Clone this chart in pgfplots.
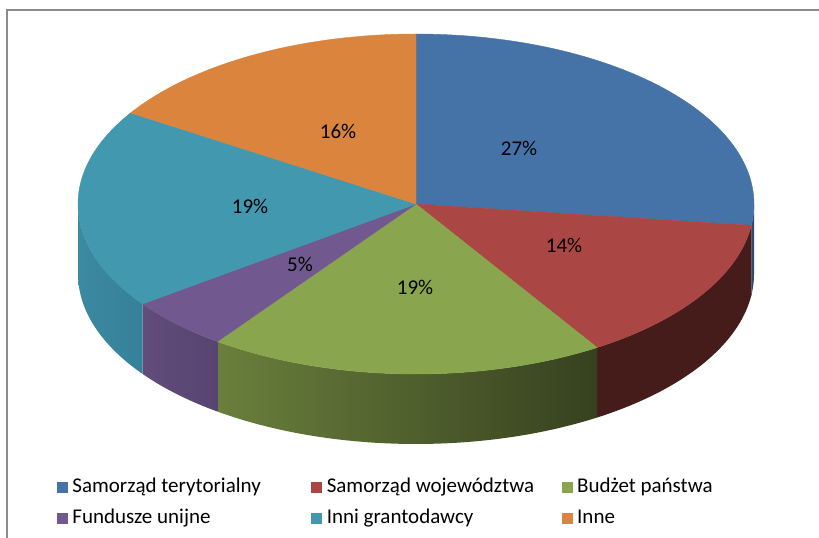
\documentclass[border=0pt]{standalone}
\usepackage{pgfplots}
\pgfplotsset{compat=1.18}
\usepackage{pgfplotstable}
\usepackage{fontspec}
\setmainfont{Carlito}

\definecolor{sblue}{HTML}{4572A7}
\definecolor{sred}{HTML}{AA4643}
\definecolor{sgreen}{HTML}{89A54E}
\definecolor{spurple}{HTML}{71588F}
\definecolor{steal}{HTML}{4198AF}
\definecolor{sorange}{HTML}{DB843D}
\definecolor{sblueS}{HTML}{2E4A6C}
\definecolor{sredS}{HTML}{461C1B}
\definecolor{sgreenL}{HTML}{6A7F3C}
\definecolor{sgreenR}{HTML}{36411F}
\definecolor{spurpleL}{HTML}{614C7B}
\definecolor{spurpleR}{HTML}{574470}
\definecolor{stealL}{HTML}{3B8AA0}
\definecolor{stealR}{HTML}{35809A}
\definecolor{frame}{HTML}{8C8C8C}

% shares of the six slices (percent), clockwise from 12 o'clock
\pgfplotstableread{
share
27
14
19
5
19
16
}\piedata

\def\angcur{90}
\newcommand\nextang[2]{%
  \pgfplotstablegetelem{#1}{share}\of\piedata
  \pgfmathsetmacro#2{\angcur-3.6*\pgfplotsretval}%
  \let\angcur#2}
\def\angO{90}
\nextang{0}{\angA}
\nextang{1}{\angB}
\nextang{2}{\angC}
\nextang{3}{\angD}
\nextang{4}{\angE}
\nextang{5}{\angF}

% geometry of the pie (in px of the reference, y up)
\def\cx{416}\def\cy{334}\def\rx{338}\def\ry{170}\def\dz{70}

\newcommand\topslice[3]{% start, end, colour
  \edef\dotop{\noexpand\addplot[fill=#3, draw=#3, line width=0.4bp, domain=#2:#1, samples=60]
    ({\cx+\rx*cos(x)}, {\cy+\ry*sin(x)}) -- (axis cs:\cx,\cy) -- cycle;}%
  \dotop}

\newcommand\sideslice[4]{% start, end, left colour, right colour
  \pgfmathsetmacro\lo{max(#2,-180)}%
  \pgfmathsetmacro\hi{min(#1,0)}%
  \pgfmathtruncatemacro\ok{\hi>\lo}%
  \ifnum\ok=1
    \edef\doside{\noexpand\addplot[draw=none, left color=#3, right color=#4,
      samples at={0,1,...,40,40.001,41,42,...,80}, variable=\noexpand\t]
      ({\cx+\rx*cos(th(\noexpand\t,\lo,\hi))},
       {\cy+\ry*sin(th(\noexpand\t,\lo,\hi))-(\noexpand\t>40.0005)*\dz}) -- cycle;}%
    \doside
  \fi}

\begin{document}
\begin{tikzpicture}
\useasboundingbox (0,0) rectangle (819bp,538bp);
\begin{axis}[
  at={(0,0)}, anchor=south west,
  width=819bp, height=538bp, scale only axis,
  xmin=0, xmax=819, ymin=0, ymax=538,
  enlargelimits=false, hide axis, clip=false,
  declare function={th(\tT,\tA,\tB)=(\tT<40.0005)*(\tA+(\tB-\tA)*\tT/40)+(\tT>40.0005)*(\tB-(\tB-\tA)*(\tT-40)/40);},
  legend columns=3,
  legend cell align=left,
  legend style={at={(axis cs:57,61)}, anchor=north west, draw=none, fill=none,
    inner sep=0pt, outer sep=0pt, row sep=11bp,
    font=\fontsize{21bp}{25bp}\selectfont,
    nodes={inner sep=0pt, text height=15bp, text depth=5bp},
    /tikz/every odd column/.append style={column sep=5bp},
    /tikz/every even column/.append style={column sep=10bp}},
]
\addlegendimage{legend image code/.code={\fill[sblue] (0bp,-5bp) rectangle (10bp,5bp);}}
\addlegendentry{\makebox[229bp][l]{Samorząd terytorialny}}
\addlegendimage{legend image code/.code={\fill[sred] (0bp,-5bp) rectangle (10bp,5bp);}}
\addlegendentry{\makebox[225bp][l]{Samorząd województwa}}
\addlegendimage{legend image code/.code={\fill[sgreen] (0bp,-5bp) rectangle (10bp,5bp);}}
\addlegendentry{Budżet państwa}
\addlegendimage{legend image code/.code={\fill[spurple] (0bp,-5bp) rectangle (10bp,5bp);}}
\addlegendentry{\makebox[229bp][l]{Fundusze unijne}}
\addlegendimage{legend image code/.code={\fill[steal] (0bp,-5bp) rectangle (10bp,5bp);}}
\addlegendentry{\makebox[225bp][l]{Inni grantodawcy}}
\addlegendimage{legend image code/.code={\fill[sorange] (0bp,-5bp) rectangle (10bp,5bp);}}
\addlegendentry{Inne}

% side faces
\sideslice{\angO}{\angA}{sblueS}{sblueS}
\sideslice{\angA}{\angB}{sredS}{sredS}
\sideslice{\angB}{\angC}{sgreenL}{sgreenR}
\sideslice{\angC}{\angD}{spurpleL}{spurpleR}
\sideslice{\angD}{\angE}{stealL}{stealR}
\sideslice{\angE}{\angF}{sorange}{sorange}

% top faces
\topslice{\angO}{\angA}{sblue}
\topslice{\angA}{\angB}{sred}
\topslice{\angB}{\angC}{sgreen}
\topslice{\angC}{\angD}{spurple}
\topslice{\angD}{\angE}{steal}
\topslice{\angE}{\angF}{sorange}

% data labels
\begin{scope}[font=\fontsize{21bp}{25bp}\selectfont]
\node at (axis cs:519,390) {27\%};
\node at (axis cs:564,293) {14\%};
\node at (axis cs:415,251) {19\%};
\node at (axis cs:300,274) {5\%};
\node at (axis cs:250,332) {19\%};
\node at (axis cs:338,407) {16\%};
\end{scope}

% chart frame (clipped at right and bottom)
\draw[frame, line width=2bp] (axis cs:7,-10) -- (axis cs:7,528) -- (axis cs:830,528);
\end{axis}
\end{tikzpicture}
\end{document}
